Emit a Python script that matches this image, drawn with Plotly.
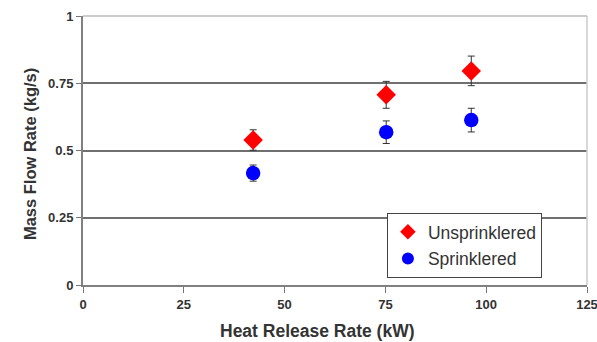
import plotly.graph_objects as go

hrr_unspr = [42.2, 75.2, 96.3]
mfr_unspr = [0.539, 0.707, 0.796]
err_unspr = [0.038, 0.05, 0.055]

hrr_spr = [42.2, 75.2, 96.3]
mfr_spr = [0.416, 0.568, 0.613]
err_spr = [0.03, 0.042, 0.044]

x_ticks = [0, 25, 50, 75, 100, 125]
x_tick_text = ["<b>0</b>", "<b>25</b>", "<b>50</b>", "<b>75</b>", "<b>100</b>", "<b>125</b>"]
y_ticks = [0, 0.25, 0.5, 0.75, 1]
y_tick_text = ["<b>0</b>", "<b>0.25</b>", "<b>0.5</b>", "<b>0.75</b>", "<b>1</b>"]

x_title = "Heat Release Rate (kW)"
y_title = "Mass Flow Rate (kg/s)"

fig = go.Figure()
fig.add_trace(go.Scatter(
    x=hrr_unspr, y=mfr_unspr, mode="markers", name="Unsprinklered", legendgroup="u",
    marker=dict(symbol="diamond", color="#ff0000", size=15),
    error_y=dict(type="data", array=err_unspr, color="#333333", thickness=1, width=3.5),
))
fig.add_trace(go.Scatter(
    x=hrr_spr, y=mfr_spr, mode="markers", name="Sprinklered", legendgroup="s",
    marker=dict(symbol="circle", color="#0000ff", size=14.5),
    error_y=dict(type="data", array=err_spr, color="#333333", thickness=1, width=3.5),
))

font_fam = "Liberation Sans, Arial, sans-serif"
fig.update_layout(
    width=597, height=342,
    margin=dict(l=83, r=10, t=16, b=57, autoexpand=False),
    paper_bgcolor="white", plot_bgcolor="white",
    font=dict(family=font_fam, color="#333333"),
    showlegend=True,
    legend=dict(
        x=0.603, y=0.268, xanchor="left", yanchor="top",
        bgcolor="white", bordercolor="#444444", borderwidth=1,
        font=dict(size=17.5, color="#333333", family=font_fam),
        itemsizing="constant", tracegroupgap=1, traceorder="grouped",
    ),
    xaxis=dict(
        range=[0, 125], tickvals=x_ticks, ticktext=x_tick_text, ticks="outside", ticklen=6,
        tickcolor="#777777", showline=True, linecolor="#808080", linewidth=2,
        showgrid=False, zeroline=False, automargin=False, ticklabeloverflow="allow",
        tickfont=dict(size=13, family=font_fam, color="#333333"),
    ),
    yaxis=dict(
        range=[0, 1], tickvals=y_ticks, ticktext=y_tick_text, ticks="outside", ticklen=5,
        tickcolor="#777777", showline=True, linecolor="#808080", linewidth=2,
        showgrid=True, gridcolor="#707070", gridwidth=1.5, zeroline=False, automargin=False,
        tickfont=dict(size=13, family=font_fam, color="#333333"),
    ),
    annotations=[
        dict(text="<b>" + x_title + "</b>", xref="paper", yref="paper", x=0.466, y=-0.172,
             xanchor="center", yanchor="middle", showarrow=False,
             font=dict(size=17.5, color="#333333", family=font_fam)),
        dict(text="<b>" + y_title + "</b>", xref="paper", yref="paper", x=-0.105, y=0.487,
             xanchor="center", yanchor="middle", showarrow=False, textangle=-90,
             font=dict(size=16.5, color="#333333", family=font_fam)),
    ],
    shapes=[
        dict(type="line", xref="paper", yref="paper", x0=1, x1=1, y0=0, y1=1,
             line=dict(color="#cccccc", width=1.5)),
        dict(type="line", xref="paper", yref="paper", x0=0, x1=1, y0=1, y1=1,
             line=dict(color="#bbbbbb", width=1.5)),
    ],
)

fig.write_html("out.html", config={"displayModeBar": False},
               post_script="document.body.style.margin='0';document.body.style.padding='0';")
